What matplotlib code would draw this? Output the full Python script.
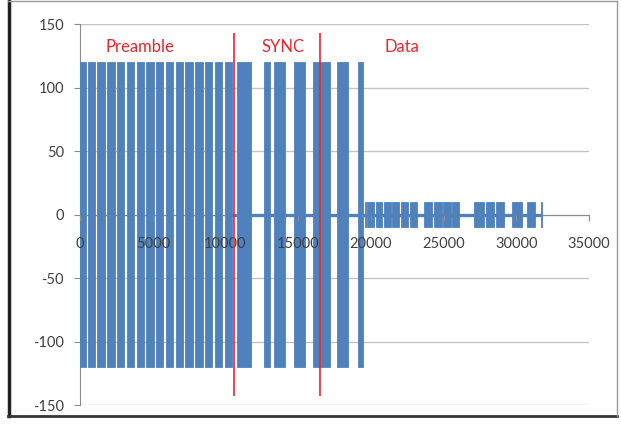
import matplotlib
matplotlib.use('Agg')
import matplotlib.pyplot as plt
from matplotlib.lines import Line2D

plt.rcParams['font.family'] = ['Lato', 'DejaVu Sans']
plt.rcParams['axes.unicode_minus'] = False

# pulse bursts: (start, end) in samples
preamble_starts = [0, 530, 1200, 1875, 2550, 3220, 3890, 4565, 5240, 5910,
                   6580, 7255, 7930, 8600, 9270, 9950]
preamble_ends = [390, 1030, 1700, 2375, 3050, 3720, 4390, 5065, 5740, 6410,
                 7080, 7755, 8430, 9100, 9770, 10450]
sync_starts = [10780, 12650, 13340, 14690, 16010, 17660, 19100]
sync_ends = [11740, 13040, 14070, 15440, 17160, 18410, 19440]
data_starts = [19620, 19770, 20380, 20930, 21480, 22100, 22720, 23680, 24360,
               24980, 25600, 27110, 27930, 28620, 29720, 30750, 31720]
data_ends = [19700, 20250, 20800, 21410, 21960, 22580, 23200, 24230, 24910,
             25530, 26080, 27800, 28480, 29170, 30400, 31300, 31800]
big_amp = 120
small_amp = 10
baseline_span = [10450, 31800]

section_marks = [10620, 16520]
section_names = ['Preamble', 'SYNC', 'Data']
section_label_x = [1750, 12500, 20950]

yticks = [-150, -100, -50, 0, 50, 100, 150]
xticks = [0, 5000, 10000, 15000, 20000, 25000, 30000, 35000]

blue = '#4f81bd'
red = '#e8262e'

fig = plt.figure(figsize=(6.21, 4.29), dpi=100)
ax = fig.add_axes([0.1288, 0.0559, 0.8196, 0.888])

for v in yticks:
    ax.axhline(v, color='#c4c4c4', lw=1, zorder=0)

ax.plot(baseline_span, [0, 0], color=blue, lw=2.4, zorder=1.8, solid_capstyle='butt')

def draw_bursts(starts, ends, amp):
    widths = [e - s for s, e in zip(starts, ends)]
    ax.bar(starts, [2 * amp] * len(starts), width=widths, bottom=-amp,
           align='edge', color=blue, edgecolor=blue, linewidth=0.6, zorder=2)

draw_bursts(preamble_starts, preamble_ends, big_amp)
draw_bursts(sync_starts, sync_ends, big_amp)
draw_bursts(data_starts, data_ends, small_amp)

ax.vlines(section_marks, -143, 143, color=red, lw=1.2, zorder=3)
for name, x in zip(section_names, section_label_x):
    ax.text(x, 132, name, color=red, fontsize=12, va='center', ha='left', zorder=4)

ax.set_xlim(0, 35000)
ax.set_ylim(-150, 150)
ax.set_xticks(xticks)
ax.set_yticks(yticks)

for s in ['top', 'right']:
    ax.spines[s].set_visible(False)
ax.spines['bottom'].set_position(('data', 0))
ax.spines['bottom'].set_color('#8c8c8c')
ax.spines['left'].set_color('#8c8c8c')
ax.spines['bottom'].set_zorder(0.5)
ax.spines['left'].set_zorder(0.5)
ax.xaxis.set_zorder(2.5)

ax.tick_params(axis='y', length=4.5, width=0.8, color='#8c8c8c', pad=7,
               labelsize=10.5, labelcolor='#404040')
ax.tick_params(axis='x', length=4, width=0.8, color='#8c8c8c', pad=12,
               labelsize=10.5, labelcolor='#404040')

# chart frame
fig.add_artist(Line2D([0.0145, 0.0145], [0.031, 0.998], transform=fig.transFigure,
                      color='#222222', lw=2.5))
fig.add_artist(Line2D([0.0129, 0.994], [0.031, 0.031], transform=fig.transFigure,
                      color='#333333', lw=2))
fig.add_artist(Line2D([0.0129, 0.994], [0.997, 0.997], transform=fig.transFigure,
                      color='#9a9a9a', lw=1))
fig.add_artist(Line2D([0.994, 0.994], [0.031, 0.997], transform=fig.transFigure,
                      color='#9a9a9a', lw=1))

fig.savefig('out.png', dpi=100)
